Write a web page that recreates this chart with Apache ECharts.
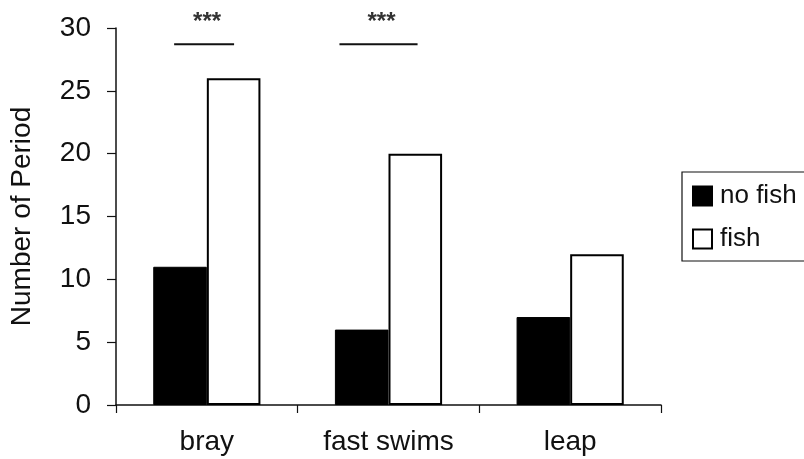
<!DOCTYPE html>
<html>
<head>
<meta charset="utf-8">
<script src="https://cdn.jsdelivr.net/npm/echarts@6/dist/echarts.min.js"></script>
<style>
  html, body { margin: 0; padding: 0; background: #fff; }
  #chart { width: 804px; height: 459px; }
</style>
</head>
<body>
<div id="chart"></div>
<script>
// behaviours observed
const categories = ["bray", "fast swims", "leap"];
const noFish = [11, 6, 7];
const fish = [26, 20, 12];
const yTicks = { min: 0, max: 30, step: 5 };

// significance bars: [xStart, xEnd, level, label] on a 0..3 scale over the categories
const sigBars = [
  [0.32, 0.65, 28.7, "***"],
  [1.23, 1.66, 28.7, "***"],
];

const font = "Liberation Sans, Arial, sans-serif";
const chart = echarts.init(document.getElementById("chart"));

const option = {
  animation: false,
  backgroundColor: "#fff",
  grid: { left: 114, right: 143, top: 28, bottom: 54 },
  legend: {
    orient: "vertical",
    left: 682,
    top: 172,
    data: ["no fish", "fish"],
    icon: "rect",
    itemWidth: 19,
    itemHeight: 19,
    itemGap: 17,
    padding: [11, 30, 9, 10],
    borderColor: "#111",
    borderWidth: 1.2,
    textStyle: { fontFamily: font, fontSize: 26, color: "#111", padding: [0, 0, 0, 3] },
  },
  xAxis: [
    {
      type: "category",
      data: categories,
      axisLine: { lineStyle: { color: "#111", width: 1.5 } },
      axisTick: { show: true, length: 8, lineStyle: { color: "#111", width: 1.2 } },
      axisLabel: { fontFamily: font, fontSize: 28, color: "#111", margin: 23 },
    },
    {
      type: "value",
      min: 0,
      max: 3,
      show: false,
    },
  ],
  yAxis: {
    type: "value",
    min: yTicks.min,
    max: yTicks.max,
    interval: yTicks.step,
    name: "Number of Period",
    nameLocation: "middle",
    nameGap: 80,
    nameTextStyle: { fontFamily: font, fontSize: 28, color: "#111" },
    axisLine: { show: true, lineStyle: { color: "#111", width: 1.5 } },
    axisTick: { show: true, length: 9, lineStyle: { color: "#111", width: 1.2 } },
    axisLabel: { fontFamily: font, fontSize: 28, color: "#111", margin: 25 },
    splitLine: { show: false },
  },
  series: [
    {
      name: "no fish",
      type: "bar",
      data: noFish,
      barGap: "0%",
      barCategoryGap: "41%",
      itemStyle: { color: "#000", borderColor: "#000", borderWidth: 1 },
    },
    {
      name: "fish",
      type: "bar",
      data: fish,
      barGap: "0%",
      barCategoryGap: "41%",
      itemStyle: { color: "#fff", borderColor: "#000", borderWidth: 2 },
    },
    {
      type: "custom",
      xAxisIndex: 1,
      data: sigBars,
      silent: true,
      renderItem: (params, api) => {
        const p0 = api.coord([api.value(0), api.value(2)]);
        const p1 = api.coord([api.value(1), api.value(2)]);
        const label = sigBars[params.dataIndex][3];
        return {
          type: "group",
          children: [
            {
              type: "line",
              shape: { x1: p0[0], y1: p0[1], x2: p1[0], y2: p1[1] },
              style: { stroke: "#111", lineWidth: 2 },
            },
            {
              type: "text",
              style: {
                text: label,
                x: (p0[0] + p1[0]) / 2 + 3,
                y: p0[1] - 22,
                align: "center",
                verticalAlign: "middle",
                fontFamily: font,
                fontSize: 24,
                fontWeight: "bold",
                fill: "#333",
              },
            },
          ],
        };
      },
    },
  ],
};

chart.setOption(option);
</script>
</body>
</html>
